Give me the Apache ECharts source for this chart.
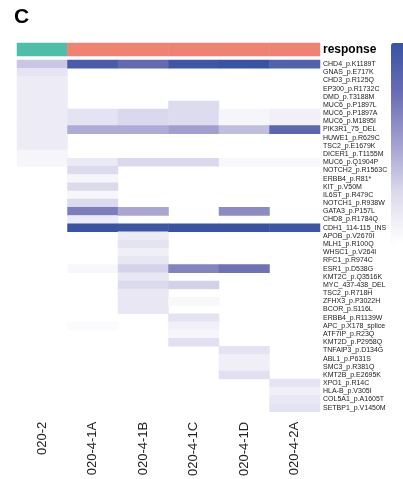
<!DOCTYPE html>
<html>
<head>
<meta charset="utf-8">
<script src="https://cdn.jsdelivr.net/npm/echarts@6/dist/echarts.min.js"></script>
<style>html,body{margin:0;padding:0;background:#fff;}#c{width:403px;height:479px;}</style>
</head>
<body>
<div id="c"></div>
<script>
const samples = ['020-2','020-4-1A','020-4-1B','020-4-1C','020-4-1D','020-4-2A'];
const responseColors = ['#4DBFA9','#EF8272','#EF8272','#EF8272','#EF8272','#EF8272'];
const genes = ['CHD4_p.K1189T','GNAS_p.E717K','CHD3_p.R125Q','EP300_p.R1732C','DMD_p.T3188M','MUC6_p.P1897L','MUC6_p.P1897A','MUC6_p.M1895I','PIK3R1_75_DEL','HUWE1_p.R629C','TSC2_p.E1679K','DICER1_p.T1155M','MUC6_p.Q1904P','NOTCH2_p.R1563C','ERBB4_p.R81*','KIT_p.V50M','IL6ST_p.R479C','NOTCH1_p.R938W','GATA3_p.P157L','CHD8_p.R1784Q','CDH1_114-115_INS','APOB_p.V2670I','MLH1_p.R100Q','WHSC1_p.V264I','RFC1_p.R974C','ESR1_p.D538G','KMT2C_p.Q3516K','MYC_437-438_DEL','TSC2_p.R718H','ZFHX3_p.P3022H','BCOR_p.S116L','ERBB4_p.R1139W','APC_p.X178_splice','ATF7IP_p.R23Q','KMT2D_p.P2958Q','TNFAIP3_p.D134G','ABL1_p.P631S','SMC3_p.R381Q','KMT2B_p.E2695K','XPO1_p.R14C','HLA-B_p.V305I','COL5A1_p.A1605T','SETBP1_p.V1450M'];
// values per sample, in gene order
const v020_2  = [0.33,0.18,0.13,0.13,0.13,0.13,0.13,0.13,0.13,0.13,0.13,0.07,0.07,0,0,0,0,0,0,0,0,0,0,0,0,0,0,0,0,0,0,0,0,0,0,0,0,0,0,0,0,0,0];
const v020_4_1A = [0.92,0,0,0,0,0,0.19,0.19,0.45,0,0,0,0.15,0.25,0.07,0.25,0.06,0.25,0.67,0.14,1.0,0,0,0,0,0.05,0,0,0,0,0,0,0.03,0,0,0,0,0,0,0,0,0,0];
const v020_4_1B = [0.78,0,0,0,0,0,0.26,0.26,0.45,0,0,0,0.26,0,0,0,0,0,0.47,0,0.98,0.13,0.19,0.11,0.17,0.28,0.17,0.25,0.16,0.16,0.16,0,0,0,0,0,0,0,0,0,0,0,0];
const v020_4_1C = [0.97,0,0,0,0,0.24,0.24,0.24,0.5,0,0,0,0.26,0,0,0,0,0,0,0,1.0,0,0,0,0,0.64,0,0.29,0,0.05,0,0.19,0.1,0.07,0.21,0,0,0,0,0,0,0,0];
const v020_4_1D = [1.0,0,0,0,0,0,0.07,0.07,0.37,0,0,0,0.05,0,0,0,0,0,0.6,0,1.0,0,0,0,0,0.73,0,0,0,0,0,0,0,0,0,0.19,0.11,0.11,0.21,0,0,0,0];
const v020_4_2A = [0.87,0,0,0,0,0,0.1,0.1,0.82,0,0,0,0.05,0,0,0,0,0,0,0,0.98,0,0,0,0,0,0,0,0,0,0,0,0,0,0,0,0,0,0,0.18,0.11,0.16,0.19];
const sampleValues = [v020_2, v020_4_1A, v020_4_1B, v020_4_1C, v020_4_1D, v020_4_2A];

const heatData = [];
sampleValues.forEach((arr, si) => {
  arr.forEach((val, gi) => { if (val > 0) heatData.push([si, gi, val]); });
});
const respData = samples.map((s, i) => ({ value: [i, 0, 1], itemStyle: { color: responseColors[i] } }));

const chart = echarts.init(document.getElementById('c'), null, { renderer: 'canvas' });
const font = 'Liberation Sans, Arial, sans-serif';
chart.setOption({
  backgroundColor: '#fff',
  animation: false,
  textStyle: { fontFamily: font },
  title: { text: 'C', left: 9, top: 2, textStyle: { fontSize: 21, fontWeight: 'bold', color: '#000', fontFamily: font } },
  grid: [
    { left: 17, right: 83, top: 60, height: 355 },
    { left: 17, right: 83, top: 43, height: 13 }
  ],
  xAxis: [
    { type: 'category', data: samples, gridIndex: 0, position: 'bottom',
      axisLine: { show: false }, axisTick: { show: false }, splitLine: { show: false },
      axisLabel: { rotate: 90, fontSize: 13, color: '#222', margin: 10, fontFamily: font, interval: 0 } },
    { type: 'category', data: samples, gridIndex: 1, show: false }
  ],
  yAxis: [
    { type: 'category', data: genes, gridIndex: 0, inverse: true, position: 'right',
      axisLine: { show: false }, axisTick: { show: false }, splitLine: { show: false },
      axisLabel: { fontSize: 7, color: '#222', margin: 3, fontFamily: font, interval: 0 } },
    { type: 'category', data: ['response'], gridIndex: 1, position: 'right',
      axisLine: { show: false }, axisTick: { show: false },
      axisLabel: { fontSize: 12, fontWeight: 'bold', color: '#000', margin: 3, fontFamily: font } }
  ],
  visualMap: {
    type: 'continuous', min: 0, max: 1, seriesIndex: 0, calculable: false,
    left: 391, top: 43, padding: 0, itemWidth: 16, itemHeight: 200, text: null, showLabel: false,
    inRange: { color: ['#FFFFFF', '#DCDAED', '#A29FD0', '#6A6DB3', '#3953A4'] }
  },
  series: [
    { type: 'heatmap', xAxisIndex: 0, yAxisIndex: 0, data: heatData, itemStyle: { borderWidth: 0 } },
    { type: 'heatmap', xAxisIndex: 1, yAxisIndex: 1, data: respData }
  ]
});
</script>
</body>
</html>
